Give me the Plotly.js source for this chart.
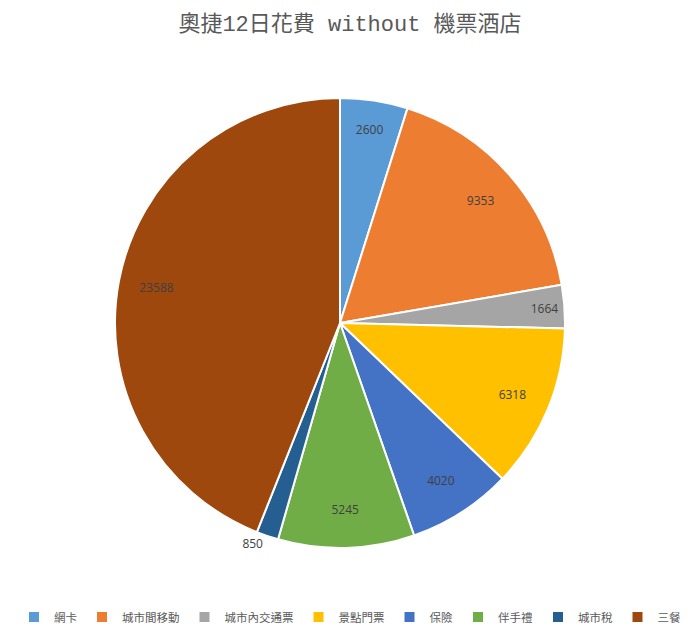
<!DOCTYPE html>
<html>
<head>
<meta charset="utf-8">
<script src="https://cdn.plot.ly/plotly-3.0.1.min.js"></script>
<style>
  html, body { margin: 0; padding: 0; background: #fff; }
  #chart { width: 700px; height: 632px; }
</style>
</head>
<body>
<div id="chart"></div>
<script>
  // categories and values
  var categories = ['網卡', '城市間移動', '城市內交通票', '景點門票', '保險', '伴手禮', '城市稅', '三餐'];
  var costs = [2600, 9353, 1664, 6318, 4020, 5245, 850, 23588];
  var sliceColors = ['#5B9BD5', '#ED7D31', '#A5A5A5', '#FFC000', '#4472C4', '#70AD47', '#255E91', '#9E480E'];

  var W = 700, H = 632;
  var pieDomain = { x: [115 / W, 565 / W], y: [1 - 548 / H, 1 - 98 / H] };
  var labelFont = { family: 'Open Sans, Noto Sans CJK TC, sans-serif', size: 12, color: '#404040' };

  // the coloured pie, no text
  var pie = {
    type: 'pie',
    labels: categories,
    values: costs,
    sort: false,
    direction: 'clockwise',
    rotation: 0,
    marker: { colors: sliceColors, line: { color: '#ffffff', width: 2 } },
    textinfo: 'none',
    hoverinfo: 'label+value+percent',
    domain: pieDomain,
    automargin: false
  };

  // transparent ring on top, only to push the value labels outward like Excel does
  var labelRing = {
    type: 'pie',
    labels: categories,
    values: costs,
    sort: false,
    direction: 'clockwise',
    rotation: 0,
    hole: 0.66,
    marker: { colors: categories.map(function () { return 'rgba(0,0,0,0)'; }), line: { width: 0 } },
    texttemplate: '%{value:.0f}',
    textposition: ['inside', 'inside', 'inside', 'inside', 'inside', 'inside', 'outside', 'inside'],
    insidetextorientation: 'horizontal',
    textfont: labelFont,
    outsidetextfont: labelFont,
    hoverinfo: 'skip',
    showlegend: false,
    domain: pieDomain,
    automargin: false
  };

  var layout = {
    width: W,
    height: H,
    margin: { l: 0, r: 0, t: 0, b: 0 },
    paper_bgcolor: '#ffffff',
    title: {
      text: '奧捷12日花費 without 機票酒店',
      font: { family: 'Liberation Mono, Noto Sans CJK TC, monospace', size: 22, color: '#595959' },
      x: 0.5, xanchor: 'center',
      y: 1 - 23 / H, yanchor: 'middle'
    },
    showlegend: true,
    legend: {
      orientation: 'h',
      x: 0.5, xanchor: 'center',
      y: 1 - 617 / H, yanchor: 'middle',
      font: { family: 'Noto Sans CJK TC, sans-serif', size: 11.5, color: '#595959' },
      itemwidth: 30,
      traceorder: 'normal'
    }
  };

  Plotly.newPlot('chart', [pie, labelRing], layout, { displayModeBar: false });
</script>
</body>
</html>
